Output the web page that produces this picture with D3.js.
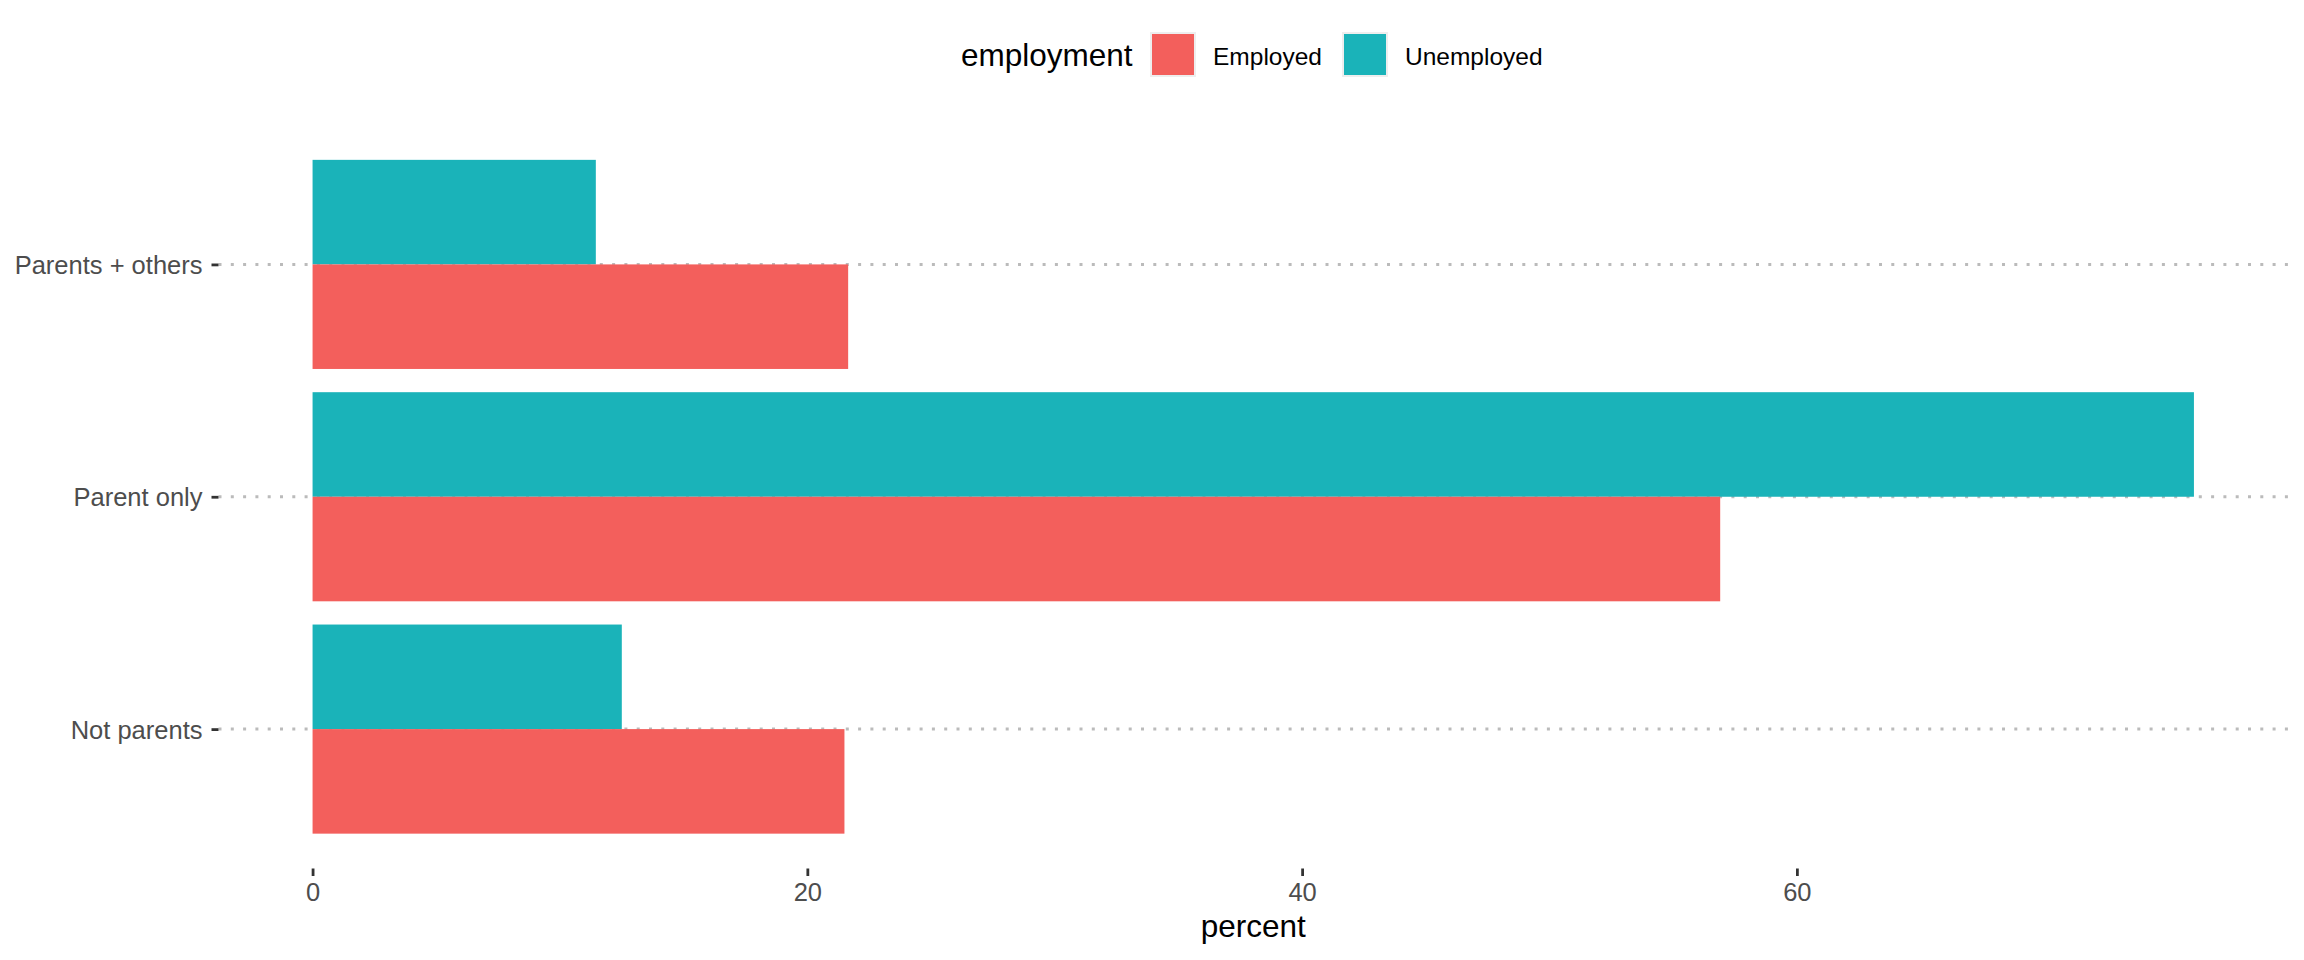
<!DOCTYPE html>
<html>
<head>
<meta charset="utf-8">
<script src="https://cdn.jsdelivr.net/npm/d3@7"></script>
<style>
html,body{margin:0;padding:0;background:#fff;}
svg{display:block;font-family:"Liberation Sans",Arial,Helvetica,sans-serif;}
</style>
</head>
<body>
<svg id="chart" width="2304" height="960"></svg>
<script>
// ---- data ----
const categories = ["Parents + others", "Parent only", "Not parents"];
const employed   = [21.65, 56.9, 21.5];
const unemployed = [11.45, 76.05, 12.5];
const seriesNames = ["Employed", "Unemployed"];
const seriesColors = ["#F35F5C", "#1AB3B9"];
const xTicks = [0, 20, 40, 60];
const legendTitle = "employment";
const xTitle = "percent";

const svg = d3.select("#chart");
const panel = {left: 218.5, right: 2288, top: 125, bottom: 868.5};

const maxV = d3.max(employed.concat(unemployed));
const x = d3.scaleLinear()
  .domain([-0.05 * maxV, maxV * 1.05])
  .range([panel.left, panel.right]);

const y = d3.scalePoint()
  .domain(categories)
  .range([panel.top, panel.bottom])
  .padding(0.6);
const step = y.step();
const half = step * 0.45;

// grid lines (dotted)
svg.append("g").selectAll("line").data(categories).join("line")
  .attr("x1", panel.left).attr("x2", panel.right)
  .attr("y1", d => y(d)).attr("y2", d => y(d))
  .attr("stroke", "#BBBBBB").attr("stroke-width", 3)
  .attr("stroke-dasharray", "3 9.3");

// bars
const rows = [];
categories.forEach((c, i) => {
  rows.push({cat: c, s: 1, v: unemployed[i]});
  rows.push({cat: c, s: 0, v: employed[i]});
});
svg.append("g").selectAll("rect").data(rows).join("rect")
  .attr("x", x(0))
  .attr("width", d => x(d.v) - x(0))
  .attr("y", d => d.s === 1 ? y(d.cat) - half : y(d.cat))
  .attr("height", half)
  .attr("fill", d => seriesColors[d.s]);

// y axis
const yAxis = svg.append("g").attr("transform", `translate(${panel.left},0)`)
  .call(d3.axisLeft(y).tickSize(7).tickPadding(9));
yAxis.select(".domain").remove();
yAxis.selectAll(".tick line").attr("stroke", "#333333").attr("stroke-width", 2.8);
yAxis.selectAll(".tick text").attr("fill", "#4D4D4D").attr("font-size", "25.5px")
  .attr("font-family", "Liberation Sans, Arial, sans-serif").attr("dy", "0.36em");

// x axis
const xAxis = svg.append("g").attr("transform", `translate(0,${panel.bottom})`)
  .call(d3.axisBottom(x).tickValues(xTicks).tickFormat(d3.format("d")).tickSize(7.5).tickPadding(7));
xAxis.select(".domain").remove();
xAxis.selectAll(".tick line").attr("stroke", "#333333").attr("stroke-width", 2.8);
xAxis.selectAll(".tick text").attr("fill", "#4D4D4D").attr("font-size", "25.5px")
  .attr("font-family", "Liberation Sans, Arial, sans-serif").attr("dy", "0.72em");

// x title
svg.append("text").attr("x", (panel.left + panel.right) / 2).attr("y", 937)
  .attr("text-anchor", "middle").attr("font-size", "31.5px").attr("fill", "#000")
  .text(xTitle);

// legend
const lg = svg.append("g");
lg.append("text").attr("x", 961).attr("y", 66).attr("font-size", "31.5px").attr("fill", "#000")
  .text(legendTitle);
const keyX = [1151, 1343];
seriesNames.forEach((n, i) => {
  lg.append("rect").attr("x", keyX[i]).attr("y", 33).attr("width", 44).attr("height", 43)
    .attr("fill", seriesColors[i]).attr("stroke", "#EEEEEE").attr("stroke-width", 2);
  lg.append("text").attr("x", keyX[i] + 62).attr("y", 64.5).attr("font-size", "24.5px")
    .attr("fill", "#000").text(n);
});
</script>
</body>
</html>
